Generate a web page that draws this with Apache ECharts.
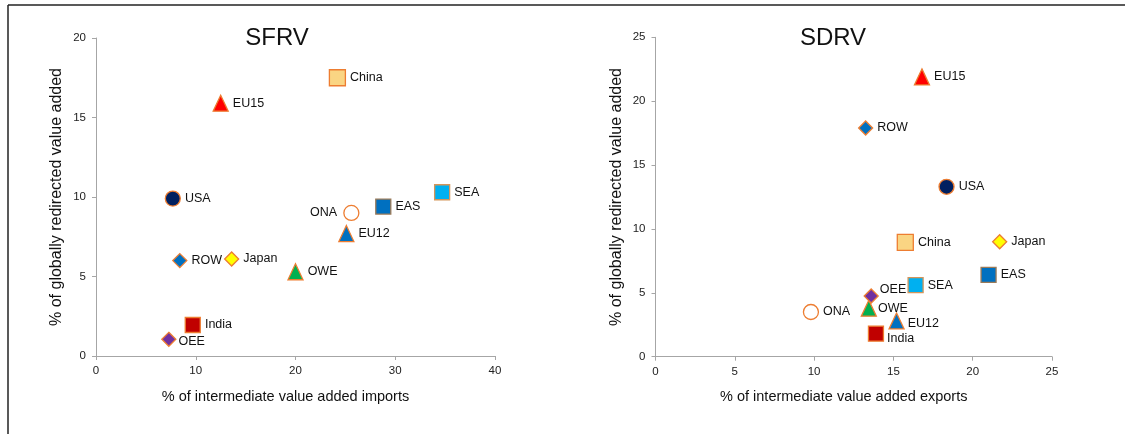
<!DOCTYPE html>
<html>
<head>
<meta charset="utf-8">
<script src="https://cdn.jsdelivr.net/npm/echarts@6/dist/echarts.min.js"></script>
<style>
html,body{margin:0;padding:0;background:#fff;}
#main{width:1125px;height:434px;}
</style>
</head>
<body>
<div id="main"></div>
<script>
// ---- data ----
var countries = ['China','EU15','USA','ONA','EAS','SEA','EU12','ROW','Japan','OWE','India','OEE'];
// SFRV panel
var sfrvX = [24.2, 12.5, 7.7, 25.6, 28.8, 34.7, 25.1, 8.4, 13.6, 20.0, 9.7, 7.3];
var sfrvY = [17.5, 15.9, 9.9, 9.0, 9.4, 10.3, 7.7, 6.0, 6.1, 5.3, 1.95, 1.05];
// SDRV panel
var sdrvX = [15.75, 16.8, 18.35, 9.8, 21.0, 16.4, 15.2, 13.25, 21.7, 13.45, 13.9, 13.6];
var sdrvY = [8.95, 21.9, 13.3, 3.5, 6.4, 5.6, 2.8, 17.9, 9.0, 3.8, 1.8, 4.75];
var titles = ['SFRV', 'SDRV'];
var xNames = ['% of intermediate value added imports', '% of intermediate value added exports'];
var yName = '% of globally redirected value added';

// ---- styles (per country) ----
var ORANGE = '#ED7D31';
var styles = {
  China: {symbol:'rect', size:[16,16], fill:'#FAD583', border:ORANGE},
  EU15:  {symbol:'triangle', size:[15,16], fill:'#FF0000', border:ORANGE},
  USA:   {symbol:'circle', size:[15,15], fill:'#002060', border:ORANGE},
  ONA:   {symbol:'circle', size:[15,15], fill:'#FFFFFF', border:ORANGE},
  EAS:   {symbol:'rect', size:[15,15], fill:'#0070C0', border:'#9A7A58'},
  SEA:   {symbol:'rect', size:[15,15], fill:'#00B0F0', border:'#D4955A'},
  EU12:  {symbol:'triangle', size:[15,16], fill:'#0070C0', border:ORANGE},
  ROW:   {symbol:'diamond', size:[14,14], fill:'#0070C0', border:ORANGE},
  Japan: {symbol:'diamond', size:[14,14], fill:'#FFFF00', border:ORANGE},
  OWE:   {symbol:'triangle', size:[15,16], fill:'#00B050', border:ORANGE},
  India: {symbol:'rect', size:[15,15], fill:'#C00000', border:ORANGE},
  OEE:   {symbol:'diamond', size:[14,14], fill:'#7030A0', border:ORANGE}
};
var labelPos = [
  { ONA: {position:'left', distance:6}, OEE: {offset:[-2,2]} },
  { OEE: {offset:[-3,-6]}, OWE: {offset:[-3,0]}, ONA: {distance:4},
    EU12: {offset:[-1,3]}, India: {distance:3, offset:[0,5]} }
];

var FONT = '"Liberation Sans", Arial, sans-serif';

function buildData(xs, ys, panel) {
  return countries.map(function (c, i) {
    var s = styles[c];
    var lp = labelPos[panel][c] || {};
    return {
      name: c,
      value: [xs[i], ys[i]],
      symbol: s.symbol,
      symbolSize: s.size,
      itemStyle: {color: s.fill, borderColor: s.border, borderWidth: 1.3, opacity: 1},
      label: {
        show: true,
        formatter: c,
        position: lp.position || 'right',
        distance: lp.distance != null ? lp.distance : 4,
        offset: lp.offset || [0, 0],
        fontFamily: FONT,
        fontSize: 12.5,
        color: '#111'
      }
    };
  });
}

function xAxisCfg(idx, max, interval, name) {
  return {
    gridIndex: idx, type: 'value', min: 0, max: max, interval: interval,
    name: name, nameLocation: 'middle', nameGap: 33,
    nameTextStyle: {fontFamily: FONT, fontSize: 14.5, color: '#111', padding:[0,20,0,0]},
    axisLine: {show: true, lineStyle: {color: '#A6A6A6', width: 1}},
    axisTick: {show: true, inside: false, length: 4, lineStyle: {color: '#A6A6A6'}},
    axisLabel: {fontFamily: FONT, fontSize: 11.5, color: '#222', margin: 9},
    splitLine: {show: false}
  };
}
function yAxisCfg(idx, max, interval) {
  return {
    gridIndex: idx, type: 'value', min: 0, max: max, interval: interval,
    name: yName, nameLocation: 'middle', nameGap: 31, nameRotate: 90,
    nameTextStyle: {fontFamily: FONT, fontSize: 16, color: '#111'},
    axisLine: {show: true, lineStyle: {color: '#A6A6A6', width: 1}},
    axisTick: {show: true, inside: false, length: 4, lineStyle: {color: '#A6A6A6'}},
    axisLabel: {fontFamily: FONT, fontSize: 11.5, color: '#222', margin: 10},
    splitLine: {show: false}
  };
}

var chart = echarts.init(document.getElementById('main'), null, {renderer: 'canvas'});
chart.setOption({
  animation: false,
  backgroundColor: '#fff',
  title: [
    {text: titles[0], left: 272, top: 21, textAlign: 'center',
     textStyle: {fontFamily: FONT, fontSize: 24, fontWeight: 'normal', color: '#111'}},
    {text: titles[1], left: 828, top: 21, textAlign: 'center',
     textStyle: {fontFamily: FONT, fontSize: 24, fontWeight: 'normal', color: '#111'}}
  ],
  grid: [
    {left: 96, top: 38, width: 399, height: 318},
    {left: 655.5, top: 37.3, width: 396.5, height: 319.4}
  ],
  xAxis: [xAxisCfg(0, 40, 10, xNames[0]), xAxisCfg(1, 25, 5, xNames[1])],
  yAxis: [yAxisCfg(0, 20, 5), yAxisCfg(1, 25, 5)],
  series: [
    {type: 'scatter', xAxisIndex: 0, yAxisIndex: 0, data: buildData(sfrvX, sfrvY, 0)},
    {type: 'scatter', xAxisIndex: 1, yAxisIndex: 1, data: buildData(sdrvX, sdrvY, 1)}
  ],
  graphic: [
    {type: 'line', shape: {x1: 8, y1: 5, x2: 1125, y2: 5}, style: {stroke: '#222', lineWidth: 1.5}, silent: true},
    {type: 'line', shape: {x1: 8, y1: 5, x2: 8, y2: 434}, style: {stroke: '#222', lineWidth: 1.5}, silent: true}
  ]
});
</script>
</body>
</html>
